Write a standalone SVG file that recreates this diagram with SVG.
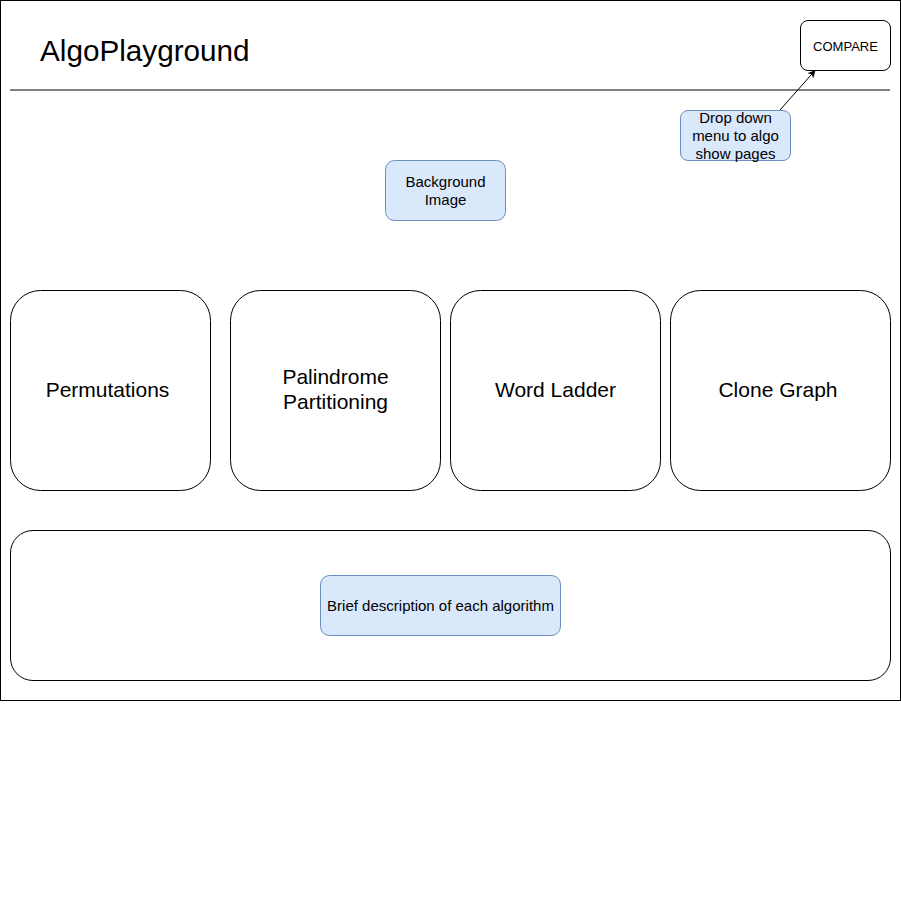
<svg xmlns="http://www.w3.org/2000/svg" width="901" height="901" viewBox="0 0 901 901">
<style>
  text { font-family: "Liberation Sans", Arial, Helvetica, sans-serif; fill: #000; }
  .box { fill: #fff; stroke: #000; stroke-width: 1; }
  .note { fill: #dae8fc; stroke: #6c8ebf; stroke-width: 1; }
  .big { font-size: 21px; text-anchor: middle; }
  .small { font-size: 15px; text-anchor: middle; }
  .tiny { font-size: 13px; text-anchor: middle; }
</style>
<defs>
  <marker id="arr" viewBox="0 0 10 10" refX="9" refY="5" markerWidth="8" markerHeight="8" orient="auto" markerUnits="userSpaceOnUse">
    <path d="M0,0 L10,5 L0,10 L3,5 Z" fill="#000"/>
  </marker>
</defs>
<rect x="0" y="0" width="901" height="901" fill="#fff"/>
<g id="frame">
  <rect x="0.5" y="0.5" width="900" height="700" fill="#fff" stroke="#000"/>
  <line x1="10" y1="90" x2="890" y2="90" stroke="#000"/>
  <text x="40" y="61" font-size="29.7">AlgoPlayground</text>
</g>
<g id="compare">
  <rect class="box" x="800.5" y="20.5" width="90" height="50" rx="7.5"/>
  <text class="tiny" x="845.5" y="51">COMPARE</text>
</g>
<g id="dropdown">
  <rect class="note" x="680.5" y="110.5" width="110" height="50" rx="7.5"/>
  <text class="small" x="735.5" y="123">Drop down</text>
  <text class="small" x="735.5" y="141">menu to algo</text>
  <text class="small" x="735.5" y="159">show pages</text>
</g>
<g id="background">
  <rect class="note" x="385.5" y="160.5" width="120" height="60" rx="9"/>
  <text class="small" x="445.5" y="187">Background</text>
  <text class="small" x="445.5" y="205">Image</text>
</g>
<g id="permutations">
  <rect class="box" x="10.5" y="290.5" width="200" height="200" rx="30"/>
  <text class="big" x="107.5" y="397">Permutations</text>
</g>
<g id="palindrome">
  <rect class="box" x="230.5" y="290.5" width="210" height="200" rx="30"/>
  <text class="big" x="335.5" y="384">Palindrome</text>
  <text class="big" x="335.5" y="409">Partitioning</text>
</g>
<g id="wordladder">
  <rect class="box" x="450.5" y="290.5" width="210" height="200" rx="30"/>
  <text class="big" x="555.5" y="397">Word Ladder</text>
</g>
<g id="clonegraph">
  <rect class="box" x="670.5" y="290.5" width="220" height="200" rx="30"/>
  <text class="big" x="778" y="397">Clone Graph</text>
</g>
<g id="descpanel">
  <rect class="box" x="10.5" y="530.5" width="880" height="150" rx="22.5"/>
</g>
<g id="brief">
  <rect class="note" x="320.5" y="575.5" width="240" height="60" rx="9"/>
  <text class="small" x="440.5" y="611">Brief description of each algorithm</text>
</g>
<g id="connectors">
  <line x1="780" y1="110" x2="815" y2="70.5" stroke="#000" marker-end="url(#arr)"/>
</g>
</svg>
